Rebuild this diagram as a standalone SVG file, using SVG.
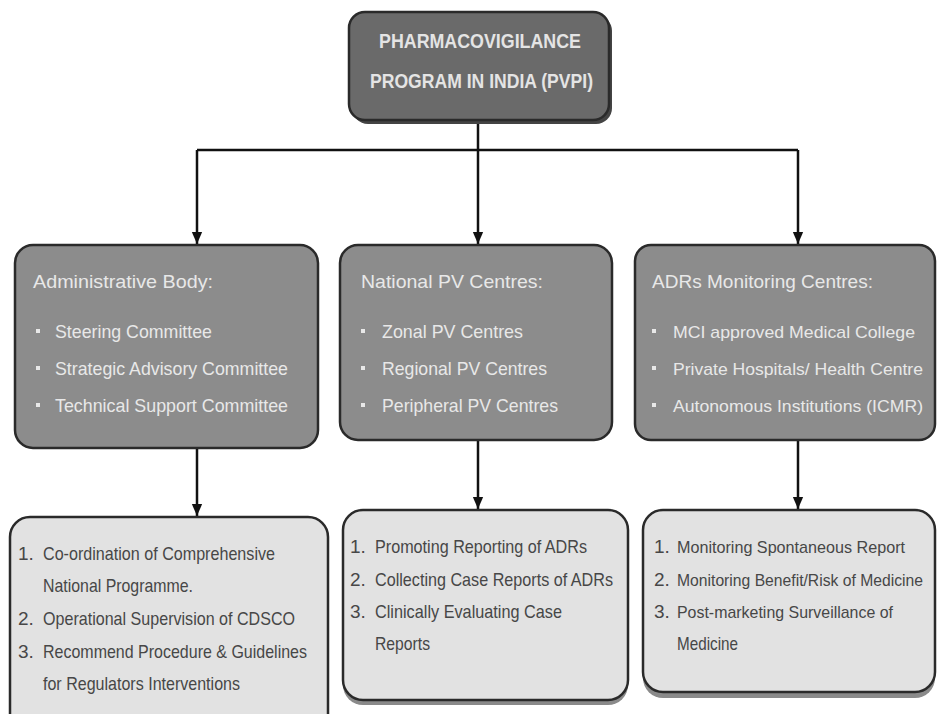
<svg xmlns="http://www.w3.org/2000/svg" width="937" height="714" viewBox="0 0 937 714">
<style>
.top{fill:#6a6a6a;stroke:#2a2a2a;stroke-width:2.5}
.mid{fill:#8c8c8c;stroke:#2a2a2a;stroke-width:2.5}
.bot{fill:#e2e2e2;stroke:#2a2a2a;stroke-width:2.5}
.lt{font-family:"Liberation Sans",Arial,sans-serif;font-size:19px;fill:#e8e8e8}
.tt{font-family:"Liberation Sans",Arial,sans-serif;font-size:20px;fill:#e4e4e4;font-weight:bold}
.dk{font-family:"Liberation Sans",Arial,sans-serif;font-size:19px;fill:#474747}
.sm{font-size:17px}
.xs{font-size:16px}
.bul{fill:#e8e8e8}
.conn{fill:none;stroke:#111;stroke-width:2.5}
</style>
<defs>
<marker id="ah" markerWidth="12" markerHeight="14" refX="14" refY="6" orient="auto" markerUnits="userSpaceOnUse" viewBox="0 0 14 12">
<path d="M0,0 L14,6 L0,12 Z" fill="#111"/>
</marker>
</defs>

<g id="connectors">
<path class="conn" d="M478,122 V150 M197,150 H798"/>
<path class="conn" d="M197,150 V244" marker-end="url(#ah)"/>
<path class="conn" d="M478,150 V244" marker-end="url(#ah)"/>
<path class="conn" d="M798,150 V244" marker-end="url(#ah)"/>
<path class="conn" d="M197,448 V516" marker-end="url(#ah)"/>
<path class="conn" d="M478,440 V509" marker-end="url(#ah)"/>
<path class="conn" d="M798,440 V509" marker-end="url(#ah)"/>
</g>

<g id="pvpi">
<rect x="352" y="15" width="260" height="109" rx="16" fill="#444"/>
<rect x="349" y="12" width="260" height="108" rx="16" class="top"/>
<text class="tt" x="379" y="48" textLength="202" lengthAdjust="spacingAndGlyphs">PHARMACOVIGILANCE</text>
<text class="tt" x="370" y="88" textLength="223" lengthAdjust="spacingAndGlyphs">PROGRAM IN INDIA (PVPI)</text>
</g>

<g id="admin">
<rect x="15" y="245" width="303" height="203" rx="18" class="mid"/>
<text class="lt" x="33" y="288" textLength="180" lengthAdjust="spacingAndGlyphs">Administrative Body:</text>
<rect class="bul" x="36" y="329" width="4" height="4"/>
<rect class="bul" x="36" y="366" width="4" height="4"/>
<rect class="bul" x="36" y="403" width="4" height="4"/>
<text class="lt" x="55" y="338" textLength="157" lengthAdjust="spacingAndGlyphs">Steering Committee</text>
<text class="lt" x="55" y="375" textLength="233" lengthAdjust="spacingAndGlyphs">Strategic Advisory Committee</text>
<text class="lt" x="55" y="412" textLength="233" lengthAdjust="spacingAndGlyphs">Technical Support Committee</text>
</g>

<g id="national">
<rect x="340" y="245" width="272" height="195" rx="18" class="mid"/>
<text class="lt" x="361" y="288" textLength="182" lengthAdjust="spacingAndGlyphs">National PV Centres:</text>
<rect class="bul" x="361" y="329" width="4" height="4"/>
<rect class="bul" x="361" y="366" width="4" height="4"/>
<rect class="bul" x="361" y="403" width="4" height="4"/>
<text class="lt" x="382" y="338" textLength="141" lengthAdjust="spacingAndGlyphs">Zonal PV Centres</text>
<text class="lt" x="382" y="375" textLength="165" lengthAdjust="spacingAndGlyphs">Regional PV Centres</text>
<text class="lt" x="382" y="412" textLength="176" lengthAdjust="spacingAndGlyphs">Peripheral PV Centres</text>
</g>

<g id="adr">
<rect x="635" y="245" width="300" height="195" rx="16" class="mid"/>
<text class="lt" x="652" y="288" textLength="221" lengthAdjust="spacingAndGlyphs">ADRs Monitoring Centres:</text>
<rect class="bul" x="652" y="329" width="4" height="4"/>
<rect class="bul" x="652" y="366" width="4" height="4"/>
<rect class="bul" x="652" y="403" width="4" height="4"/>
<text class="lt sm" x="673" y="338" textLength="242" lengthAdjust="spacingAndGlyphs">MCI approved Medical College</text>
<text class="lt sm" x="673" y="375" textLength="250" lengthAdjust="spacingAndGlyphs">Private Hospitals/ Health Centre</text>
<text class="lt sm" x="673" y="412" textLength="250" lengthAdjust="spacingAndGlyphs">Autonomous Institutions (ICMR)</text>
</g>

<g id="admin-roles">
<rect x="10" y="517" width="318" height="220" rx="20" class="bot"/>
<text class="dk" x="18" y="560">1.</text>
<text class="dk" x="43" y="560" textLength="232" lengthAdjust="spacingAndGlyphs">Co-ordination of Comprehensive</text>
<text class="dk" x="43" y="592" textLength="150" lengthAdjust="spacingAndGlyphs">National Programme.</text>
<text class="dk" x="18" y="625">2.</text>
<text class="dk" x="43" y="625" textLength="252" lengthAdjust="spacingAndGlyphs">Operational Supervision of CDSCO</text>
<text class="dk" x="18" y="658">3.</text>
<text class="dk" x="43" y="658" textLength="264" lengthAdjust="spacingAndGlyphs">Recommend Procedure &amp; Guidelines</text>
<text class="dk" x="43" y="690" textLength="197" lengthAdjust="spacingAndGlyphs">for Regulators Interventions</text>
</g>

<g id="national-roles">
<rect x="343" y="514" width="285" height="191" rx="20" fill="#8a8a8a"/>
<rect x="343" y="510" width="285" height="190" rx="20" class="bot"/>
<text class="dk" x="350" y="553">1.</text>
<text class="dk" x="375" y="553" textLength="212" lengthAdjust="spacingAndGlyphs">Promoting Reporting of ADRs</text>
<text class="dk" x="350" y="586">2.</text>
<text class="dk" x="375" y="586" textLength="238" lengthAdjust="spacingAndGlyphs">Collecting Case Reports of ADRs</text>
<text class="dk" x="350" y="618">3.</text>
<text class="dk" x="375" y="618" textLength="187" lengthAdjust="spacingAndGlyphs">Clinically Evaluating Case</text>
<text class="dk" x="375" y="650" textLength="55" lengthAdjust="spacingAndGlyphs">Reports</text>
</g>

<g id="adr-roles">
<rect x="643" y="514" width="292" height="184" rx="20" fill="#8a8a8a"/>
<rect x="643" y="510" width="292" height="182" rx="20" class="bot"/>
<text class="dk" x="654" y="553">1.</text>
<text class="dk sm" x="677" y="553" textLength="228" lengthAdjust="spacingAndGlyphs">Monitoring Spontaneous Report</text>
<text class="dk" x="654" y="586">2.</text>
<text class="dk xs" x="677" y="586" textLength="246" lengthAdjust="spacingAndGlyphs">Monitoring Benefit/Risk of Medicine</text>
<text class="dk" x="654" y="618">3.</text>
<text class="dk sm" x="677" y="618" textLength="216" lengthAdjust="spacingAndGlyphs">Post-marketing Surveillance of</text>
<text class="dk" x="677" y="650" textLength="61" lengthAdjust="spacingAndGlyphs">Medicine</text>
</g>
</svg>
